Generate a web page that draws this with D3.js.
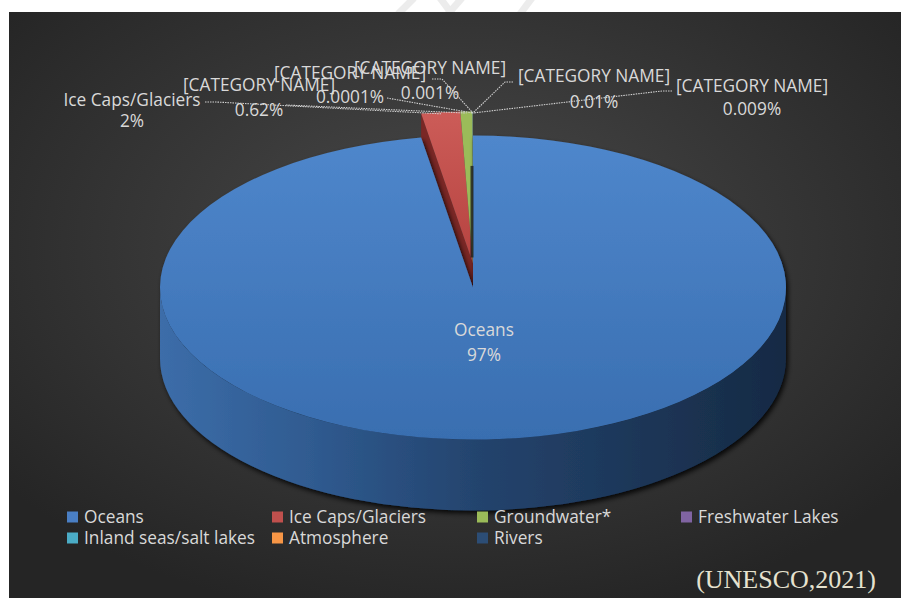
<!DOCTYPE html>
<html>
<head>
<meta charset="utf-8">
<script src="https://cdn.jsdelivr.net/npm/d3@7"></script>
<style>
html,body{margin:0;padding:0;background:#fff;}
svg{display:block;}
</style>
</head>
<body>
<svg id="chart" width="908" height="605"></svg>
<script>
// ---------------- DATA ----------------
const categories = ["Oceans","Ice Caps/Glaciers","Groundwater*","Freshwater Lakes","Inland seas/salt lakes","Atmosphere","Rivers"];
const values = [97, 2, 0.62, 0.009, 0.01, 0.001, 0.0001];
const valueLabels = ["97%","2%","0.62%","0.009%","0.01%","0.001%","0.0001%"];
const labelNames = ["Oceans","Ice Caps/Glaciers","[CATEGORY NAME]","[CATEGORY NAME]","[CATEGORY NAME]","[CATEGORY NAME]","[CATEGORY NAME]"];
const colors = ["#4a7fc4","#c0504d","#9bbb59","#8064a2","#4bacc6","#f79646","#2c4d75"];
const sourceText = "(UNESCO,2021)";

// ---------------- LAYOUT ----------------
const W = 908, H = 605;
const cx = 473, cy = 287.5, rx = 313, ry = 152, depth = 71;
const explodeDy = -24; // small slices pulled back
// label layout: [centerX, line1Y, line2Y, leaderStartX, leaderStartY, elbowX]
const labelLayout = [
  [484, 330, 355, null, null, null],
  [132, 100, 121, 205, 102, 216],
  [259, 85, 110, 286, 105, null],
  [752, 86, 109, 672, 91, 662],
  [594, 76, 102, 513, 82, 505],
  [430, 68, 93, 432, 79, 442],
  [350, 73, 97, 387, 98, null]
];
const legendCols = [67, 272, 477, 681];
const legendRows = [517, 538];

const svg = d3.select("#chart");
const defs = svg.append("defs");

// background gradient
const bg = defs.append("radialGradient").attr("id","bg")
  .attr("cx","50%").attr("cy","40%").attr("r","65%");
bg.append("stop").attr("offset","0%").attr("stop-color","#4a4a4a");
bg.append("stop").attr("offset","100%").attr("stop-color","#252525");

const topGrad = defs.append("linearGradient").attr("id","oceanTop")
  .attr("x1","0").attr("y1","0").attr("x2","0").attr("y2","1");
topGrad.append("stop").attr("offset","0%").attr("stop-color","#4f87cc");
topGrad.append("stop").attr("offset","100%").attr("stop-color","#396eb0");

const sideGrad = defs.append("linearGradient").attr("id","oceanSide")
  .attr("gradientUnits","userSpaceOnUse")
  .attr("x1", cx - rx).attr("y1",0).attr("x2", cx + rx).attr("y2",0);
sideGrad.append("stop").attr("offset","0%").attr("stop-color","#3c6da9");
sideGrad.append("stop").attr("offset","25%").attr("stop-color","#2f5a8f");
sideGrad.append("stop").attr("offset","50%").attr("stop-color","#24446e");
sideGrad.append("stop").attr("offset","100%").attr("stop-color","#162a44");

const redTop = defs.append("linearGradient").attr("id","redTop")
  .attr("x1","0").attr("y1","0").attr("x2","0").attr("y2","1");
redTop.append("stop").attr("offset","0%").attr("stop-color","#cc5c58");
redTop.append("stop").attr("offset","100%").attr("stop-color","#b64340");

const shadow = defs.append("filter").attr("id","shadow")
  .attr("x","-10%").attr("y","-10%").attr("width","120%").attr("height","130%");
shadow.append("feDropShadow").attr("dx",2).attr("dy",3).attr("stdDeviation",2.5)
  .attr("flood-color","#000").attr("flood-opacity",0.85);

// faint watermark strokes in the top margin
const wm = svg.append("g").attr("stroke","#e4e4e4").attr("stroke-width",7).attr("opacity",0.7);
[[398,14,414,-2],[440,-2,452,14],[462,-2,448,14],[520,14,532,-2]].forEach(s=>{
  wm.append("line").attr("x1",s[0]).attr("y1",s[1]).attr("x2",s[2]).attr("y2",s[3]);
});

svg.append("rect").attr("x",9).attr("y",12).attr("width",892).attr("height",586)
  .attr("fill","url(#bg)");

// ---------------- PIE ----------------
const pie = d3.pie().sort(null).value(d => d.value).startAngle(0).endAngle(2*Math.PI);
const data = categories.map((c,i)=>({name:c, value:values[i], i}));
const arcs = pie(data);

// scales mapping the unit circle to the projected ellipse
const xs = d3.scaleLinear().domain([-1,1]).range([cx - rx, cx + rx]);
const ys = d3.scaleLinear().domain([-1,1]).range([cy - ry, cy + ry]);

function off(d){ return d.index === 0 ? 0 : explodeDy; }
function P(a, r, h, d){
  return [xs(r*Math.sin(a)), ys(-r*Math.cos(a)) + h + off(d)];
}
function topPath(d){
  const c = P(0,0,0,d), s = P(d.startAngle,1,0,d), e = P(d.endAngle,1,0,d);
  const large = (d.endAngle - d.startAngle) > Math.PI ? 1 : 0;
  return `M${c[0]},${c[1]}L${s[0]},${s[1]}A${rx},${ry} 0 ${large} 1 ${e[0]},${e[1]}Z`;
}
function sidePath(d){
  const a1 = Math.max(d.startAngle, Math.PI/2), a2 = Math.min(d.endAngle, 3*Math.PI/2);
  if (a2 <= a1) return null;
  const t1 = P(a1,1,0,d), t2 = P(a2,1,0,d), b2 = P(a2,1,depth,d), b1 = P(a1,1,depth,d);
  const large = (a2 - a1) > Math.PI ? 1 : 0;
  return `M${t1[0]},${t1[1]}A${rx},${ry} 0 ${large} 1 ${t2[0]},${t2[1]}L${b2[0]},${b2[1]}A${rx},${ry} 0 ${large} 0 ${b1[0]},${b1[1]}Z`;
}
function startFace(d){
  const c = P(0,0,0,d), s = P(d.startAngle,1,0,d), sb = P(d.startAngle,1,depth,d), cb = P(0,0,depth,d);
  return `M${c[0]},${c[1]}L${s[0]},${s[1]}L${sb[0]},${sb[1]}L${cb[0]},${cb[1]}Z`;
}

const pieG = svg.append("g");
const small = arcs.filter(d => d.index > 0);
pieG.selectAll("path.sface").data(small.slice(0,1)).join("path")
  .attr("class","sface").attr("d", startFace)
  .attr("fill", "#7a2725");
pieG.selectAll("path.stop").data(small).join("path")
  .attr("class","stop").attr("d", topPath)
  .attr("fill", d => d.index === 1 ? "url(#redTop)" : colors[d.index]);

// ocean body
const oceanG = pieG.append("g").attr("filter","url(#shadow)");
oceanG.append("path").attr("d", sidePath(arcs[0])).attr("fill","url(#oceanSide)");
oceanG.append("path").attr("d", topPath(arcs[0])).attr("fill","url(#oceanTop)");
(function(){
  const d = arcs[0];
  const a = P(0,0,0,d), b = P(0,0.8,0,d);
  pieG.append("line").attr("x1",a[0]-1).attr("y1",a[1]-30).attr("x2",b[0]-1).attr("y2",b[1])
    .attr("stroke","#1d1d1d").attr("stroke-width",3).attr("opacity",0.8);
})();

// ---------------- LABELS ----------------
const fontFam = "'Open Sans',sans-serif";
const fs = 17.3;
const lblG = svg.append("g").attr("font-family", fontFam).attr("font-size", fs)
  .attr("fill","#d9d9d9").attr("text-anchor","middle");

const leadG = svg.append("g").attr("fill","none").attr("stroke","#d0d0d0")
  .attr("stroke-width",1.1).attr("stroke-dasharray","1.5,1");

arcs.forEach(d => {
  const L = labelLayout[d.index];
  if (L[3] !== null) {
    const mid = (d.startAngle + d.endAngle)/2;
    const tgt = P(mid, 0.99, 0, d);
    const pts = [[L[3], L[4]]];
    if (L[5] !== null) pts.push([L[5], L[4]]);
    pts.push(tgt);
    leadG.append("path").attr("d", d3.line()(pts));
  }
});
arcs.forEach(d => {
  const L = labelLayout[d.index];
  lblG.append("text").attr("x", L[0]).attr("y", L[1]).attr("dy","0.35em").text(labelNames[d.index]);
  lblG.append("text").attr("x", L[0]).attr("y", L[2]).attr("dy","0.35em").text(valueLabels[d.index]);
});

// ---------------- LEGEND ----------------
const legG = svg.append("g").attr("font-family", fontFam).attr("font-size", fs).attr("fill","#d9d9d9");
categories.forEach((c, i) => {
  const col = i % 4, row = Math.floor(i / 4);
  const x = legendCols[col], y = legendRows[row];
  legG.append("rect").attr("x", x).attr("y", y - 5.5).attr("width", 11).attr("height", 11)
    .attr("fill", colors[i]);
  legG.append("text").attr("x", x + 17).attr("y", y).attr("dy","0.35em").text(c);
});

// ---------------- SOURCE ----------------
svg.append("text").attr("x", 876).attr("y", 588).attr("text-anchor","end")
  .attr("font-family","'Liberation Serif','Times New Roman',serif").attr("font-size", 26)
  .attr("fill","#e6e2cf").text(sourceText);
</script>
</body>
</html>
